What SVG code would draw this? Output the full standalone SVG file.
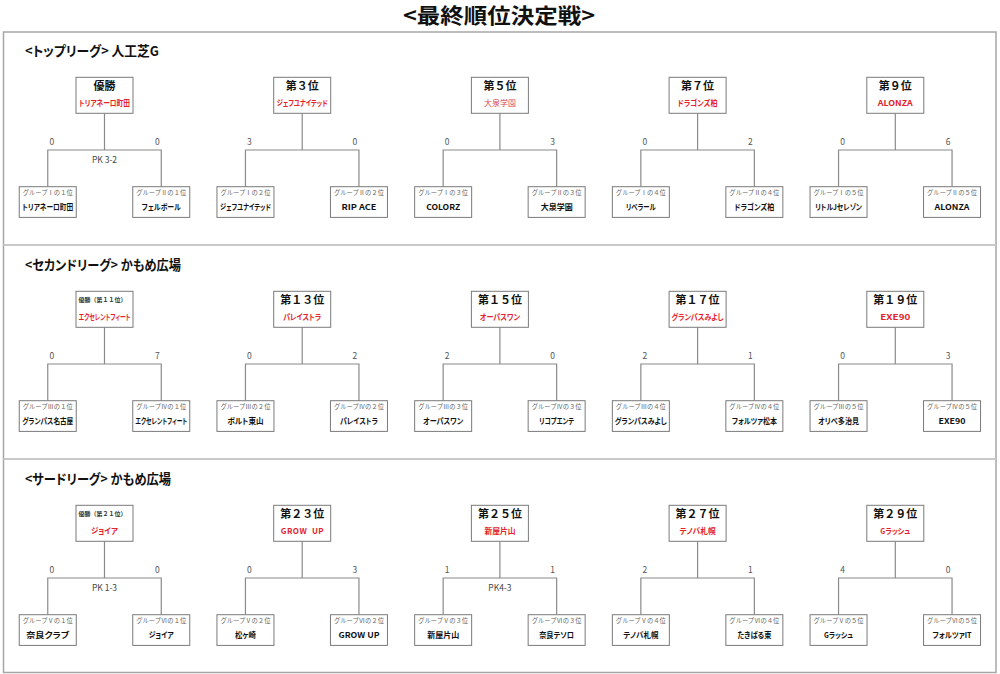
<svg xmlns="http://www.w3.org/2000/svg" width="1000" height="674" viewBox="0 0 1000 674">
<style>
text{font-family:"Noto Sans CJK JP","Noto Sans CJK SC",sans-serif;text-anchor:middle}
.box{fill:#fff;stroke:#7a7a7a;stroke-width:1}
.ttl{font-size:21px;font-weight:bold;fill:#111}
.hd{font-size:13.5px;font-weight:bold;fill:#111;text-anchor:start;font-feature-settings:"palt" 1}
.t{font-size:11px;font-weight:bold;fill:#111}
.ts{font-size:6px;font-weight:bold;fill:#333}
.w{font-size:8px;font-weight:bold;fill:#e3232b;font-feature-settings:"palt" 1}
.wl{font-size:8px;font-weight:normal;fill:#d9474c}
.g{font-size:6.3px;fill:#666}
.n{font-size:8px;font-weight:bold;fill:#111;font-feature-settings:"palt" 1}
.s{font-size:8.5px;fill:#555}
.pk{font-size:8.5px;fill:#444}
.con{fill:none;stroke:#8a8a8a;stroke-width:1.2}
</style>
<rect x="0" y="0" width="1000" height="674" fill="#fff"/>
<text class="ttl" x="499" y="23" textLength="192" lengthAdjust="spacingAndGlyphs">&lt;最終順位決定戦&gt;</text>
<g id="frame">
<rect x="3.5" y="32" width="992.5" height="640.5" fill="none" stroke="#a6a6a6" stroke-width="1.5"/>
<line x1="3.5" y1="245" x2="996" y2="245" stroke="#c8c8c8" stroke-width="2"/>
<line x1="3.5" y1="459" x2="996" y2="459" stroke="#c8c8c8" stroke-width="2"/>
</g>
<g id="headings">
<text class="hd" x="25" y="56" textLength="134" lengthAdjust="spacingAndGlyphs">&lt;トップリーグ&gt; 人工芝G</text>
<text class="hd" x="25" y="270" textLength="156" lengthAdjust="spacingAndGlyphs">&lt;セカンドリーグ&gt; かもめ広場</text>
<text class="hd" x="25" y="484" textLength="146" lengthAdjust="spacingAndGlyphs">&lt;サードリーグ&gt; かもめ広場</text>
</g>
<g id="connectors" class="con">
<path d="M47.75,186.7V150H161.25V186.7M104.5,113.3V150"/>
<path d="M245.45,186.7V150H358.95V186.7M302.2,113.3V150"/>
<path d="M443.15,186.7V150H556.65V186.7M499.9,113.3V150"/>
<path d="M640.85,186.7V150H754.35V186.7M697.6,113.3V150"/>
<path d="M838.55,186.7V150H952.05V186.7M895.3,113.3V150"/>
<path d="M47.75,400.7V364H161.25V400.7M104.5,327.3V364"/>
<path d="M245.45,400.7V364H358.95V400.7M302.2,327.3V364"/>
<path d="M443.15,400.7V364H556.65V400.7M499.9,327.3V364"/>
<path d="M640.85,400.7V364H754.35V400.7M697.6,327.3V364"/>
<path d="M838.55,400.7V364H952.05V400.7M895.3,327.3V364"/>
<path d="M47.75,614.7V578H161.25V614.7M104.5,541.3V578"/>
<path d="M245.45,614.7V578H358.95V614.7M302.2,541.3V578"/>
<path d="M443.15,614.7V578H556.65V614.7M499.9,541.3V578"/>
<path d="M640.85,614.7V578H754.35V614.7M697.6,541.3V578"/>
<path d="M838.55,614.7V578H952.05V614.7M895.3,541.3V578"/>
</g>
<g id="scores">
<text class="s" x="51.75" y="144.5">0</text><text class="s" x="157.25" y="144.5">0</text>
<text class="s" x="249.45" y="144.5">3</text><text class="s" x="354.95" y="144.5">0</text>
<text class="s" x="447.15" y="144.5">0</text><text class="s" x="552.65" y="144.5">3</text>
<text class="s" x="644.85" y="144.5">0</text><text class="s" x="750.35" y="144.5">2</text>
<text class="s" x="842.55" y="144.5">0</text><text class="s" x="948.05" y="144.5">6</text>
<text class="s" x="51.75" y="358.5">0</text><text class="s" x="157.25" y="358.5">7</text>
<text class="s" x="249.45" y="358.5">0</text><text class="s" x="354.95" y="358.5">2</text>
<text class="s" x="447.15" y="358.5">2</text><text class="s" x="552.65" y="358.5">0</text>
<text class="s" x="644.85" y="358.5">2</text><text class="s" x="750.35" y="358.5">1</text>
<text class="s" x="842.55" y="358.5">0</text><text class="s" x="948.05" y="358.5">3</text>
<text class="s" x="51.75" y="572.5">0</text><text class="s" x="157.25" y="572.5">0</text>
<text class="s" x="249.45" y="572.5">0</text><text class="s" x="354.95" y="572.5">3</text>
<text class="s" x="447.15" y="572.5">1</text><text class="s" x="552.65" y="572.5">1</text>
<text class="s" x="644.85" y="572.5">2</text><text class="s" x="750.35" y="572.5">1</text>
<text class="s" x="842.55" y="572.5">4</text><text class="s" x="948.05" y="572.5">0</text>
<text class="pk" x="104.5" y="163">PK 3-2</text>
<text class="pk" x="104.5" y="591">PK 1-3</text>
<text class="pk" x="499.9" y="591">PK4-3</text>
</g>
<!-- Section 1 -->
<g id="s1-b1-top" transform="translate(76,77.3)"><rect class="box" width="57" height="36"/><text class="t" x="28.5" y="13.1">優勝</text><text class="w" x="28.5" y="28.6" textLength="51" lengthAdjust="spacingAndGlyphs">トリアネーロ町田</text></g>
<g id="s1-b1-l" transform="translate(19.25,186.7)"><rect class="box" width="57" height="30.7"/><text class="g" x="28.5" y="8.1">グループⅠの１位</text><text class="n" x="28.5" y="23.8" textLength="51" lengthAdjust="spacingAndGlyphs">トリアネーロ町田</text></g>
<g id="s1-b1-r" transform="translate(132.75,186.7)"><rect class="box" width="57" height="30.7"/><text class="g" x="28.5" y="8.1">グループⅡの１位</text><text class="n" x="28.5" y="23.8" textLength="39" lengthAdjust="spacingAndGlyphs">フェルボール</text></g>
<g id="s1-b2-top" transform="translate(273.7,77.3)"><rect class="box" width="57" height="36"/><text class="t" x="28.5" y="13.1">第３位</text><text class="w" x="28.5" y="28.6" textLength="51" lengthAdjust="spacingAndGlyphs">ジェフユナイテッド</text></g>
<g id="s1-b2-l" transform="translate(216.95,186.7)"><rect class="box" width="57" height="30.7"/><text class="g" x="28.5" y="8.1">グループⅠの２位</text><text class="n" x="28.5" y="23.8" textLength="51" lengthAdjust="spacingAndGlyphs">ジェフユナイテッド</text></g>
<g id="s1-b2-r" transform="translate(330.45,186.7)"><rect class="box" width="57" height="30.7"/><text class="g" x="28.5" y="8.1">グループⅡの２位</text><text class="n" x="28.5" y="23.8" textLength="35" lengthAdjust="spacingAndGlyphs">RIP ACE</text></g>
<g id="s1-b3-top" transform="translate(471.4,77.3)"><rect class="box" width="57" height="36"/><text class="t" x="28.5" y="13.1">第５位</text><text class="wl" x="28.5" y="28.6">大泉学園</text></g>
<g id="s1-b3-l" transform="translate(414.65,186.7)"><rect class="box" width="57" height="30.7"/><text class="g" x="28.5" y="8.1">グループⅠの３位</text><text class="n" x="28.5" y="23.8" textLength="34" lengthAdjust="spacingAndGlyphs">COLORZ</text></g>
<g id="s1-b3-r" transform="translate(528.15,186.7)"><rect class="box" width="57" height="30.7"/><text class="g" x="28.5" y="8.1">グループⅡの３位</text><text class="n" x="28.5" y="23.8">大泉学園</text></g>
<g id="s1-b4-top" transform="translate(669.1,77.3)"><rect class="box" width="57" height="36"/><text class="t" x="28.5" y="13.1">第７位</text><text class="w" x="28.5" y="28.6" textLength="40" lengthAdjust="spacingAndGlyphs">ドラゴンズ柏</text></g>
<g id="s1-b4-l" transform="translate(612.35,186.7)"><rect class="box" width="57" height="30.7"/><text class="g" x="28.5" y="8.1">グループⅠの４位</text><text class="n" x="28.5" y="23.8" textLength="30" lengthAdjust="spacingAndGlyphs">リベラール</text></g>
<g id="s1-b4-r" transform="translate(725.85,186.7)"><rect class="box" width="57" height="30.7"/><text class="g" x="28.5" y="8.1">グループⅡの４位</text><text class="n" x="28.5" y="23.8" textLength="40" lengthAdjust="spacingAndGlyphs">ドラゴンズ柏</text></g>
<g id="s1-b5-top" transform="translate(866.8,77.3)"><rect class="box" width="57" height="36"/><text class="t" x="28.5" y="13.1">第９位</text><text class="w" x="28.5" y="28.6" textLength="35" lengthAdjust="spacingAndGlyphs">ALONZA</text></g>
<g id="s1-b5-l" transform="translate(810.05,186.7)"><rect class="box" width="57" height="30.7"/><text class="g" x="28.5" y="8.1">グループⅠの５位</text><text class="n" x="28.5" y="23.8" textLength="47" lengthAdjust="spacingAndGlyphs">リトルJセレゾン</text></g>
<g id="s1-b5-r" transform="translate(923.55,186.7)"><rect class="box" width="57" height="30.7"/><text class="g" x="28.5" y="8.1">グループⅡの５位</text><text class="n" x="28.5" y="23.8" textLength="35" lengthAdjust="spacingAndGlyphs">ALONZA</text></g>
<!-- Section 2 -->
<g id="s2-b1-top" transform="translate(76,291.3)"><rect class="box" width="57" height="36"/><text class="ts" x="26.5" y="10.3">優勝（第１１位）</text><text class="w" x="28.5" y="28.6" textLength="52" lengthAdjust="spacingAndGlyphs">エクセレントフィート</text></g>
<g id="s2-b1-l" transform="translate(19.25,400.7)"><rect class="box" width="57" height="30.7"/><text class="g" x="28.5" y="8.1">グループⅢの１位</text><text class="n" x="28.5" y="23.8" textLength="51" lengthAdjust="spacingAndGlyphs">グランパス名古屋</text></g>
<g id="s2-b1-r" transform="translate(132.75,400.7)"><rect class="box" width="57" height="30.7"/><text class="g" x="28.5" y="8.1">グループⅣの１位</text><text class="n" x="28.5" y="23.8" textLength="52" lengthAdjust="spacingAndGlyphs">エクセレントフィート</text></g>
<g id="s2-b2-top" transform="translate(273.7,291.3)"><rect class="box" width="57" height="36"/><text class="t" x="28.5" y="13.1">第１３位</text><text class="w" x="28.5" y="28.6" textLength="38" lengthAdjust="spacingAndGlyphs">パレイストラ</text></g>
<g id="s2-b2-l" transform="translate(216.95,400.7)"><rect class="box" width="57" height="30.7"/><text class="g" x="28.5" y="8.1">グループⅢの２位</text><text class="n" x="28.5" y="23.8" textLength="36" lengthAdjust="spacingAndGlyphs">ボルト東山</text></g>
<g id="s2-b2-r" transform="translate(330.45,400.7)"><rect class="box" width="57" height="30.7"/><text class="g" x="28.5" y="8.1">グループⅣの２位</text><text class="n" x="28.5" y="23.8" textLength="38" lengthAdjust="spacingAndGlyphs">パレイストラ</text></g>
<g id="s2-b3-top" transform="translate(471.4,291.3)"><rect class="box" width="57" height="36"/><text class="t" x="28.5" y="13.1">第１５位</text><text class="w" x="28.5" y="28.6" textLength="40" lengthAdjust="spacingAndGlyphs">オーパスワン</text></g>
<g id="s2-b3-l" transform="translate(414.65,400.7)"><rect class="box" width="57" height="30.7"/><text class="g" x="28.5" y="8.1">グループⅢの３位</text><text class="n" x="28.5" y="23.8" textLength="40" lengthAdjust="spacingAndGlyphs">オーパスワン</text></g>
<g id="s2-b3-r" transform="translate(528.15,400.7)"><rect class="box" width="57" height="30.7"/><text class="g" x="28.5" y="8.1">グループⅣの３位</text><text class="n" x="28.5" y="23.8" textLength="35" lengthAdjust="spacingAndGlyphs">リコプエンテ</text></g>
<g id="s2-b4-top" transform="translate(669.1,291.3)"><rect class="box" width="57" height="36"/><text class="t" x="28.5" y="13.1">第１７位</text><text class="w" x="28.5" y="28.6" textLength="52" lengthAdjust="spacingAndGlyphs">グランパスみよし</text></g>
<g id="s2-b4-l" transform="translate(612.35,400.7)"><rect class="box" width="57" height="30.7"/><text class="g" x="28.5" y="8.1">グループⅢの４位</text><text class="n" x="28.5" y="23.8" textLength="52" lengthAdjust="spacingAndGlyphs">グランパスみよし</text></g>
<g id="s2-b4-r" transform="translate(725.85,400.7)"><rect class="box" width="57" height="30.7"/><text class="g" x="28.5" y="8.1">グループⅣの４位</text><text class="n" x="28.5" y="23.8" textLength="45" lengthAdjust="spacingAndGlyphs">フォルツァ松本</text></g>
<g id="s2-b5-top" transform="translate(866.8,291.3)"><rect class="box" width="57" height="36"/><text class="t" x="28.5" y="13.1">第１９位</text><text class="w" x="28.5" y="28.6" textLength="30" lengthAdjust="spacingAndGlyphs">EXE90</text></g>
<g id="s2-b5-l" transform="translate(810.05,400.7)"><rect class="box" width="57" height="30.7"/><text class="g" x="28.5" y="8.1">グループⅢの５位</text><text class="n" x="28.5" y="23.8" textLength="41" lengthAdjust="spacingAndGlyphs">オリベ多治見</text></g>
<g id="s2-b5-r" transform="translate(923.55,400.7)"><rect class="box" width="57" height="30.7"/><text class="g" x="28.5" y="8.1">グループⅣの５位</text><text class="n" x="28.5" y="23.8" textLength="27" lengthAdjust="spacingAndGlyphs">EXE90</text></g>
<!-- Section 3 -->
<g id="s3-b1-top" transform="translate(76,505.3)"><rect class="box" width="57" height="36"/><text class="ts" x="26.5" y="10.3">優勝（第２１位）</text><text class="w" x="28.5" y="28.6" textLength="27" lengthAdjust="spacingAndGlyphs">ジョイア</text></g>
<g id="s3-b1-l" transform="translate(19.25,614.7)"><rect class="box" width="57" height="30.7"/><text class="g" x="28.5" y="8.1">グループⅤの１位</text><text class="n" x="28.5" y="23.8" textLength="43" lengthAdjust="spacingAndGlyphs">奈良クラブ</text></g>
<g id="s3-b1-r" transform="translate(132.75,614.7)"><rect class="box" width="57" height="30.7"/><text class="g" x="28.5" y="8.1">グループⅥの１位</text><text class="n" x="28.5" y="23.8" textLength="25" lengthAdjust="spacingAndGlyphs">ジョイア</text></g>
<g id="s3-b2-top" transform="translate(273.7,505.3)"><rect class="box" width="57" height="36"/><text class="t" x="28.5" y="13.1">第２３位</text><text class="w" x="28.5" y="28.6" textLength="43" lengthAdjust="spacing" xml:space="preserve">GROW  UP</text></g>
<g id="s3-b2-l" transform="translate(216.95,614.7)"><rect class="box" width="57" height="30.7"/><text class="g" x="28.5" y="8.1">グループⅤの２位</text><text class="n" x="28.5" y="23.8" textLength="21" lengthAdjust="spacingAndGlyphs">松ヶ崎</text></g>
<g id="s3-b2-r" transform="translate(330.45,614.7)"><rect class="box" width="57" height="30.7"/><text class="g" x="28.5" y="8.1">グループⅥの２位</text><text class="n" x="28.5" y="23.8" textLength="41" lengthAdjust="spacingAndGlyphs">GROW UP</text></g>
<g id="s3-b3-top" transform="translate(471.4,505.3)"><rect class="box" width="57" height="36"/><text class="t" x="28.5" y="13.1">第２５位</text><text class="w" x="28.5" y="28.6" textLength="31" lengthAdjust="spacingAndGlyphs">新屋片山</text></g>
<g id="s3-b3-l" transform="translate(414.65,614.7)"><rect class="box" width="57" height="30.7"/><text class="g" x="28.5" y="8.1">グループⅤの３位</text><text class="n" x="28.5" y="23.8" textLength="32" lengthAdjust="spacingAndGlyphs">新屋片山</text></g>
<g id="s3-b3-r" transform="translate(528.15,614.7)"><rect class="box" width="57" height="30.7"/><text class="g" x="28.5" y="8.1">グループⅥの３位</text><text class="n" x="28.5" y="23.8" textLength="35" lengthAdjust="spacingAndGlyphs">奈良テソロ</text></g>
<g id="s3-b4-top" transform="translate(669.1,505.3)"><rect class="box" width="57" height="36"/><text class="t" x="28.5" y="13.1">第２７位</text><text class="w" x="28.5" y="28.6" textLength="36" lengthAdjust="spacingAndGlyphs">テノバ札幌</text></g>
<g id="s3-b4-l" transform="translate(612.35,614.7)"><rect class="box" width="57" height="30.7"/><text class="g" x="28.5" y="8.1">グループⅤの４位</text><text class="n" x="28.5" y="23.8" textLength="35" lengthAdjust="spacingAndGlyphs">テノバ札幌</text></g>
<g id="s3-b4-r" transform="translate(725.85,614.7)"><rect class="box" width="57" height="30.7"/><text class="g" x="28.5" y="8.1">グループⅥの４位</text><text class="n" x="28.5" y="23.8" textLength="34" lengthAdjust="spacingAndGlyphs">たきばる東</text></g>
<g id="s3-b5-top" transform="translate(866.8,505.3)"><rect class="box" width="57" height="36"/><text class="t" x="28.5" y="13.1">第２９位</text><text class="w" x="28.5" y="28.6" textLength="30" lengthAdjust="spacingAndGlyphs">Gラッシュ</text></g>
<g id="s3-b5-l" transform="translate(810.05,614.7)"><rect class="box" width="57" height="30.7"/><text class="g" x="28.5" y="8.1">グループⅤの５位</text><text class="n" x="28.5" y="23.8" textLength="29" lengthAdjust="spacingAndGlyphs">Gラッシュ</text></g>
<g id="s3-b5-r" transform="translate(923.55,614.7)"><rect class="box" width="57" height="30.7"/><text class="g" x="28.5" y="8.1">グループⅥの５位</text><text class="n" x="28.5" y="23.8" textLength="39" lengthAdjust="spacingAndGlyphs">フォルツァIT</text></g>
</svg>
